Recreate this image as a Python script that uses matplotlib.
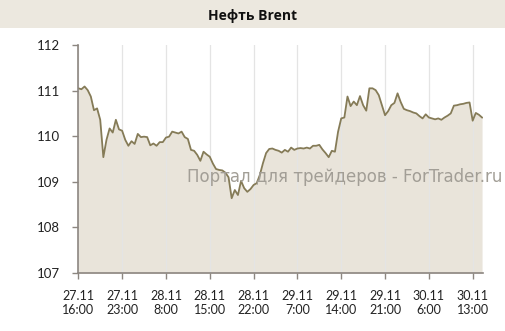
import matplotlib
matplotlib.use('Agg')
import matplotlib.pyplot as plt
import numpy as np

LINE = '#857b57'
FILL = '#e9e4da'
BAND = '#ece8df'
AXIS = '#8c8680'
GRID = '#e4e4e4'

# half-hour quotes, 27.11 16:00 ... 30.11 ~14:00 (trading hours only)
price = [
    111.05, 111.03, 111.09, 111.01, 110.87, 110.57, 110.61, 110.36, 109.54, 109.92,
    110.17, 110.08, 110.36, 110.15, 110.12, 109.92, 109.79, 109.89, 109.83, 110.05,
    109.98, 109.99, 109.98, 109.80, 109.84, 109.79, 109.87, 109.87, 109.97, 109.99,
    110.10, 110.08, 110.06, 110.10, 109.98, 109.94, 109.70, 109.68, 109.59, 109.46,
    109.66, 109.60, 109.55, 109.40, 109.28, 109.26, 109.25, 109.20, 109.10, 108.64,
    108.82, 108.71, 109.02, 108.86, 108.78, 108.84, 108.93, 108.97, 109.15, 109.41,
    109.63, 109.72, 109.73, 109.70, 109.68, 109.64, 109.70, 109.66, 109.75, 109.70,
    109.73, 109.74, 109.73, 109.75, 109.73, 109.79, 109.79, 109.81, 109.71, 109.63,
    109.54, 109.68, 109.66, 110.10, 110.39, 110.41, 110.87, 110.66, 110.76, 110.68,
    110.88, 110.68, 110.56, 111.05, 111.05, 111.01, 110.90, 110.68, 110.46, 110.55,
    110.68, 110.73, 110.94, 110.75, 110.60, 110.57, 110.55, 110.52, 110.50, 110.44,
    110.39, 110.48, 110.41, 110.39, 110.37, 110.39, 110.36, 110.41, 110.45, 110.50,
    110.67, 110.68, 110.70, 110.71, 110.73, 110.74, 110.34, 110.51, 110.47, 110.41,
]
tick_labels = ['27.11\n16:00', '27.11\n23:00', '28.11\n8:00', '28.11\n15:00', '28.11\n22:00',
               '29.11\n7:00', '29.11\n14:00', '29.11\n21:00', '30.11\n6:00', '30.11\n13:00']
y_ticks = [107, 108, 109, 110, 111, 112]
x = np.arange(len(price))

plt.rcParams['font.family'] = ['Lato', 'DejaVu Sans']
plt.rcParams['font.size'] = 9

fig = plt.figure(figsize=(5.06, 3.31), dpi=100)
fig.patch.set_facecolor('white')
# title band
fig.patches.append(plt.Rectangle((0, 1 - 28/331), 1, 28/331, transform=fig.transFigure,
                                 facecolor=BAND, edgecolor='none'))
fig.text(0.5, 1 - 16/331, 'Нефть Brent', ha='center', va='center', fontsize=10,
         fontweight='bold', family=['Open Sans', 'DejaVu Sans'], color='#111111')

ax = fig.add_axes([78/506, 1 - 273/331, (483 - 78)/506, (273 - 45)/331])
ax.fill_between(x, price, 107, color=FILL, zorder=1, linewidth=0)
ax.plot(x, price, color=LINE, linewidth=1.3, zorder=3)
ticks = np.arange(0, len(price), 14)
ax.set_xticks(ticks)
ax.set_xticklabels(tick_labels, color='#222222')
ax.set_yticks(y_ticks)
ax.set_yticklabels([str(v) for v in y_ticks], color='#222222', fontsize=9.5)
ax.set_xlim(-0.1, len(price) - 1 + 0.3)
ax.set_ylim(107, 112)
ax.grid(axis='x', color=GRID, linewidth=0.9, zorder=2)
ax.set_axisbelow(False)
for s in ['top', 'right']:
    ax.spines[s].set_visible(False)
for s in ['left', 'bottom']:
    ax.spines[s].set_color(AXIS)
    ax.spines[s].set_linewidth(1.2)
    ax.spines[s].set_zorder(4)
ax.tick_params(axis='both', color=AXIS, length=4, width=1)
ax.tick_params(axis='x', pad=8)
ax.tick_params(axis='y', pad=9)

fig.text(345/506, 1 - 177/331, 'Портал для трейдеров - ForTrader.ru', ha='center', va='center',
         fontsize=12, color='#a29e96', family=['DejaVu Sans'])

fig.savefig('out.png', dpi=100)
